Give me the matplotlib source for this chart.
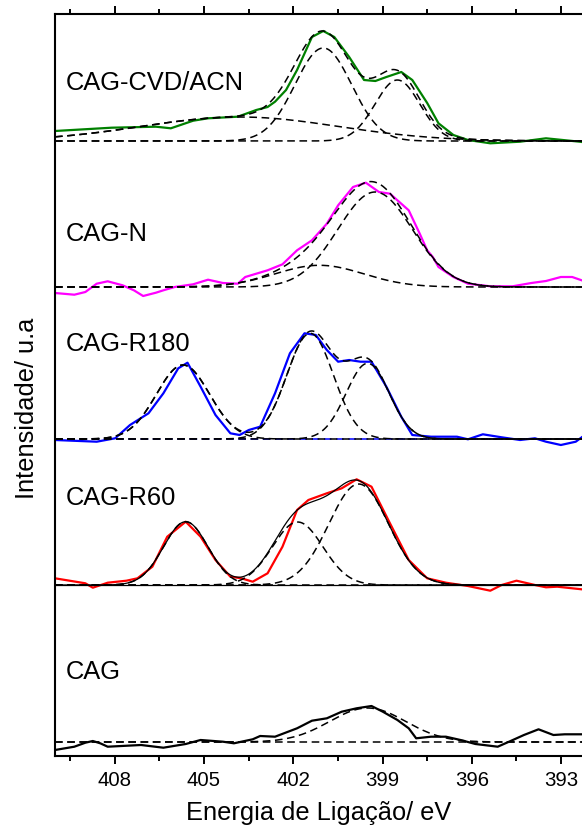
import numpy as np
import matplotlib
matplotlib.use('Agg')
import matplotlib.pyplot as plt

plt.rcParams['font.family'] = ['Liberation Sans', 'DejaVu Sans']

# ---- espectros N1s (energia em eV, intensidade acima da linha de base) ----
cvd_e = [410.0, 408.10, 406.61, 406.11, 405.36, 404.86, 403.86, 403.24, 402.86, 402.61,
         402.24, 401.87, 401.37, 400.99, 400.62, 400.12, 399.62, 399.24, 398.87, 398.37,
         398.00, 397.50, 397.12, 396.62, 396.13, 395.38, 394.38, 393.51, 392.38, 392.3]
cvd_i = [10, 13.3, 14.3, 12.7, 20.3, 22.7, 24.3, 31, 34, 39.3,
         51, 71, 104, 110, 104, 84, 61, 60, 64, 69,
         61, 38, 17.7, 6, 1, -2.3, -0.7, 2.7, -0.7, -1]

n_e = [410.0, 409.35, 408.98, 408.60, 408.23, 407.73, 407.35, 407.04, 406.61, 406.36,
       405.98, 405.36, 404.86, 404.36, 403.86, 403.61, 402.86, 402.36, 401.87, 401.37,
       400.87, 400.49, 399.99, 399.56, 399.12, 398.75, 398.12, 397.75, 397.50, 397.31,
       397.12, 396.62, 396.13, 395.38, 394.63, 394.00, 393.51, 393.01, 392.63, 392.31]
n_i = [-6, -7.7, -5, 3.3, 5.7, 1.7, -3.3, -9, -5.7, -3.3,
       0, 2.7, 7.3, 4, 3.3, 10, 16.7, 22.7, 36.7, 46.7,
       63.3, 81.7, 100, 104.3, 95, 93.3, 76.7, 53.3, 36.7, 30,
       20, 10, 3.3, 0.7, 0.7, 4, 6, 10, 10, 6.7]

r180_e = [410.0, 408.60, 407.98, 407.48, 406.86, 406.36, 405.86, 405.55, 405.11, 404.61,
          404.11, 403.80, 403.49, 403.11, 402.61, 402.11, 401.62, 401.24, 400.87, 400.49,
          400.12, 399.74, 399.37, 398.87, 398.37, 398.00, 397.37, 396.50, 396.13, 395.63,
          395.00, 394.38, 393.88, 393.51, 393.01, 392.51, 392.31]
r180_i = [-1, -2.7, 0.7, 14, 25.7, 45.7, 70.7, 76.3, 52.3, 24,
          5.7, 4, 9, 12.3, 45.7, 85.7, 105.7, 104, 89, 77.3,
          79, 77.3, 77.3, 52.3, 22.3, 4, 2.3, 2.3, -0.3, 4.7,
          1.7, -1, 0.7, -2.7, -6, -2.7, 1.7]

r60_e = [410.0, 408.98, 408.73, 408.23, 407.60, 407.23, 406.73, 406.23, 405.61, 405.11,
         404.61, 404.11, 403.74, 403.36, 402.86, 402.36, 401.87, 401.49, 400.87, 400.37,
         399.87, 399.37, 398.75, 398.12, 397.50, 396.87, 396.13, 395.38, 395.00, 394.50,
         393.88, 393.51, 393.13, 392.31]
r60_i = [6.7, 1.7, -2.7, 2.3, 4.3, 6.7, 18.3, 48.3, 63.3, 48.3,
         25, 8.3, 6.7, 3.3, 11.7, 38.3, 75, 85, 91.7, 96.7,
         105.7, 98.3, 61.7, 25, 6.7, 2.3, -1, -5.7, 0, 4.3,
         0, -2.3, -1.7, -4.3]

cag_e = [410.0, 409.35, 408.98, 408.73, 408.48, 408.23, 407.11, 406.36, 405.61, 405.11,
         404.36, 403.99, 403.36, 403.11, 402.61, 401.87, 401.37, 400.87, 400.37, 399.87,
         399.37, 398.99, 398.50, 398.12, 397.87, 397.37, 396.87, 396.38, 395.88, 395.13,
         394.75, 394.25, 393.76, 393.26, 392.88, 392.31]
cag_i = [-8, -4.7, -0.7, 1, -1.3, -4.7, -3, -5.7, -2, 2,
         0.3, -1.3, 2.7, 6, 5.3, 13.7, 21.3, 23.7, 30.3, 33.7,
         36, 30.3, 22, 13.7, 3.7, 5.3, 5.3, 2, -2, -4.7,
         0.3, 7, 12.7, 7, 7.7, 7.7]

# ---- componentes do ajuste (centro eV, altura, FWHM eV) ----
cvd_peaks = [(403.8, 24, 7.8), (400.99, 93, 2.24), (398.5, 61, 1.77)]
n_peaks = [(401.12, 21.7, 3.5), (399.25, 95, 2.95)]
r180_peaks = [(405.7, 74, 2.1), (401.43, 105.7, 1.84), (399.5, 75.7, 1.7)]
r60_peaks = [(405.61, 63.3, 1.75), (401.85, 63, 2.0), (399.8, 101, 2.355)]
cag_peaks = [(399.5, 34, 3.0)]

labels = ['CAG-CVD/ACN', 'CAG-N', 'CAG-R180', 'CAG-R60', 'CAG']
colors = ['#008000', '#ff00ff', '#0000ff', '#ff0000', '#000000']
baselines = [615, 469, 317, 171, 14]
label_y = [666, 515, 405, 251, 77]

DASH = (0, (5, 3))


def gauss(e, center, height, fwhm):
    return height * np.exp(-4 * np.log(2) * (e - center) ** 2 / fwhm ** 2)


def plot_sample(ax, e, i, base, color, peaks, solid_fit=False):
    grid = np.linspace(410, 392.3, 600)
    ax.plot(e, np.array(i) + base, color=color, lw=1.6, zorder=2)
    total = np.zeros_like(grid)
    for c, h, w in peaks:
        comp = gauss(grid, c, h, w)
        total += comp
        ax.plot(grid, comp + base, color='k', lw=1.1, ls=DASH, zorder=3)
    if solid_fit:
        ax.axhline(base, color='k', lw=0.9, zorder=3)
        ax.plot(grid, total + base, color='k', lw=0.9, zorder=3)
    elif len(peaks) > 1:
        ax.plot(grid, total + base, color='k', lw=1.1, ls=DASH, zorder=3)
    else:
        ax.axhline(base, color='k', lw=1.1, ls=DASH, zorder=3)


fig = plt.figure(figsize=(5.82, 8.34), dpi=100)
ax = fig.add_axes([55 / 582, 78 / 834, 527 / 582, 742 / 834])

all_e = [cvd_e, n_e, r180_e, r60_e, cag_e]
all_i = [cvd_i, n_i, r180_i, r60_i, cag_i]
all_peaks = [cvd_peaks, n_peaks, r180_peaks, r60_peaks, cag_peaks]

# linha de base tracejada azul do CAG-R180
ax.axhline(baselines[2], color='#0000ff', lw=1.1, ls=DASH, zorder=1)

for k in range(5):
    plot_sample(ax, all_e[k], all_i[k], baselines[k], colors[k], all_peaks[k],
                solid_fit=(k == 3))
    ax.text(409.65, label_y[k], labels[k], fontsize=18.4, va='baseline', ha='left')

ax.set_xlim(410, 392.3)
ax.set_ylim(0, 742)
ax.set_xticks([408, 405, 402, 399, 396, 393])
ax.set_xticks(np.arange(409.5, 392, -3), minor=True)
ax.set_yticks([])
ax.tick_params(axis='x', which='major', direction='out', length=6, width=1.4,
               labelsize=14.7, pad=5, top=True)
ax.tick_params(axis='x', which='minor', direction='out', length=3.6, width=1.4, top=True)
for sp in ['left', 'bottom', 'top']:
    ax.spines[sp].set_linewidth(1.5)
ax.spines['right'].set_visible(False)

ax.set_xlabel('Energia de Ligação/ eV', fontsize=18.3, labelpad=8)
ax.set_ylabel('Intensidade/ u.a', fontsize=18.3)
ax.yaxis.set_label_coords(-0.03, 0.468)

fig.savefig('out.png', dpi=100)
